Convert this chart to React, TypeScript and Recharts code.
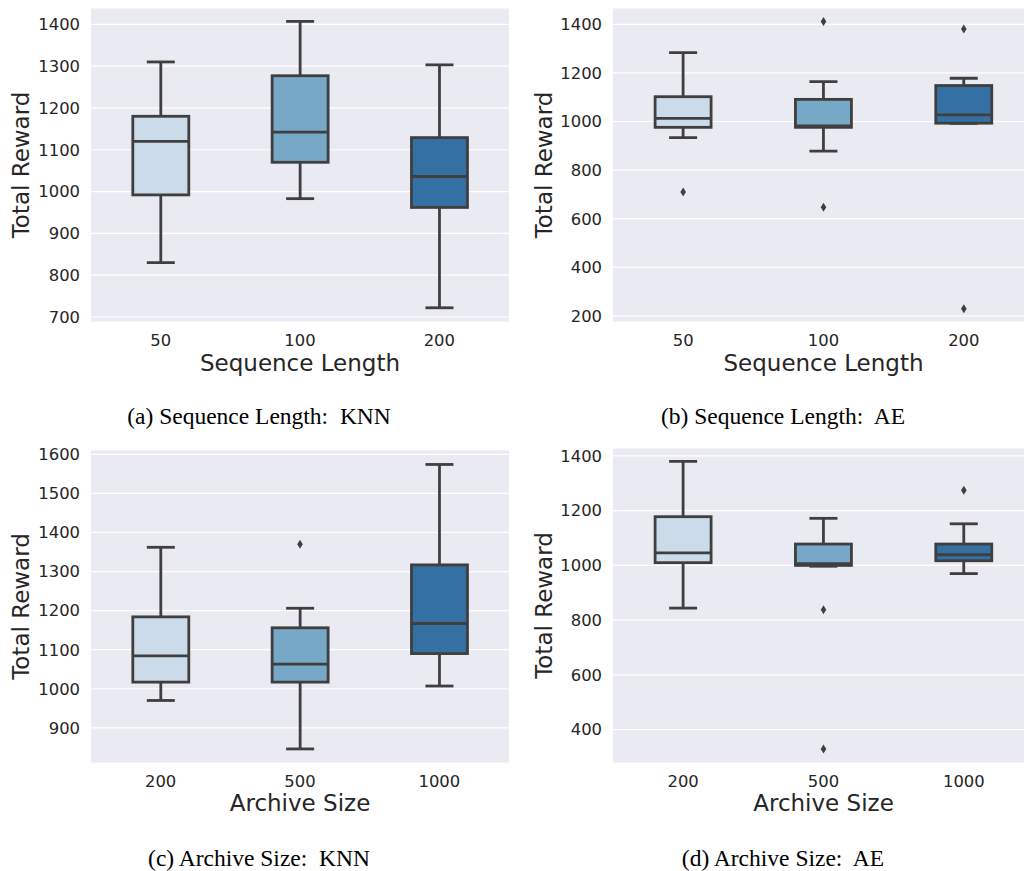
import { ComposedChart, Bar, Scatter, XAxis, YAxis, CartesianGrid, Label } from "recharts";

const seqLengths = ["50", "100", "200"];
const archiveSizes = ["200", "500", "1000"];

// per category: [min, q1, median, q3, max]
const seqKnnStats = [
  [830, 992, 1120, 1180, 1310],
  [983, 1070, 1142, 1277, 1407],
  [722, 962, 1036, 1129, 1303],
];
const seqAeStats = [
  [934, 976, 1013, 1102, 1283],
  [878, 976, 982, 1091, 1164],
  [992, 993, 1027, 1148, 1178],
];
const seqAeOutliers = [[710], [1411, 647], [1381, 230]];

const archKnnStats = [
  [970, 1017, 1084, 1184, 1362],
  [846, 1017, 1063, 1156, 1206],
  [1007, 1090, 1167, 1317, 1574],
];
const archKnnOutliers = [[], [1370], []];

const archAeStats = [
  [844, 1010, 1046, 1178, 1380],
  [997, 1000, 1006, 1078, 1172],
  [970, 1017, 1039, 1078, 1152],
];
const archAeOutliers = [[], [838, 329], [1275]];

const boxColors = ["#cbdbea", "#77a8c8", "#3470a3"];
const edge = "#3f3f3f";
const textColor = "#262626";
const sans = "DejaVu Sans, sans-serif";

const BoxShape = (props: any) => {
  const { x, y, width, height, payload, index } = props;
  const [min, q1, med, q3, max] = payload.stats;
  const top = Math.min(y, y + height);
  const h = Math.abs(height);
  // range bar spans max..min; place quartiles on the same scale
  const py = (v: number) => top + ((max - v) / (max - min)) * h;
  const cx = x + width / 2;
  const cap = width / 4;
  return (
    <g stroke={edge} strokeWidth={2.8}>
      <line x1={cx} x2={cx} y1={py(max)} y2={py(q3)} />
      <line x1={cx} x2={cx} y1={py(q1)} y2={py(min)} />
      <line x1={cx - cap} x2={cx + cap} y1={py(max)} y2={py(max)} />
      <line x1={cx - cap} x2={cx + cap} y1={py(min)} y2={py(min)} />
      <rect x={x} y={py(q3)} width={width} height={py(q1) - py(q3)} fill={boxColors[index]} />
      <line x1={x} x2={x + width} y1={py(med)} y2={py(med)} />
    </g>
  );
};

const Diamond = (props: any) => {
  const { cx, cy } = props;
  return (
    <polygon
      points={`${cx},${cy - 4.5} ${cx + 2.8},${cy} ${cx},${cy + 4.5} ${cx - 2.8},${cy}`}
      fill={edge}
    />
  );
};

interface PanelProps {
  left: number;
  top: number;
  width: number;
  height: number;
  marginTop: number;
  marginRight: number;
  yAxisWidth: number;
  xAxisHeight: number;
  yLabelOffset: number;
  categories: string[];
  stats: number[][];
  outliers?: number[][];
  domain: [number, number];
  ticks: number[];
  xLabel: string;
}

function BoxPanel(p: PanelProps) {
  const rows = p.categories.map((name, i) => ({
    name,
    range: [p.stats[i][0], p.stats[i][4]],
    stats: p.stats[i],
  }));
  const points = (p.outliers || []).flatMap((vals, i) =>
    vals.map((value) => ({ name: p.categories[i], value }))
  );
  return (
    <div style={{ position: "absolute", left: p.left, top: p.top }}>
      <ComposedChart
        width={p.width}
        height={p.height}
        data={rows}
        barCategoryGap="30%"
        margin={{ top: p.marginTop, right: p.marginRight, left: 0, bottom: 0 }}
        style={{ fontFamily: sans }}
      >
        <CartesianGrid fill="#eaeaf2" stroke="#ffffff" strokeWidth={1.2} vertical={false} />
        <XAxis
          dataKey="name"
          allowDuplicatedCategory={false}
          height={p.xAxisHeight}
          axisLine={false}
          tickLine={false}
          tickSize={0}
          tickMargin={12}
          tick={{ fill: textColor, fontSize: 16.4, fontFamily: sans }}
        >
          <Label
            value={p.xLabel}
            position="insideBottom"
            offset={9}
            style={{ fill: textColor, fontSize: 23, fontFamily: sans }}
          />
        </XAxis>
        <YAxis
          type="number"
          width={p.yAxisWidth}
          domain={p.domain}
          ticks={p.ticks}
          allowDataOverflow
          axisLine={false}
          tickLine={false}
          tickSize={0}
          tickMargin={11}
          tick={{ fill: textColor, fontSize: 16.4, fontFamily: sans }}
        >
          <Label
            value="Total Reward"
            angle={-90}
            position="insideLeft"
            offset={p.yLabelOffset}
            style={{ fill: textColor, fontSize: 23, fontFamily: sans, textAnchor: "middle" }}
          />
        </YAxis>
        <Bar dataKey="range" shape={<BoxShape />} isAnimationActive={false} />
        {points.length > 0 && (
          <Scatter data={points} dataKey="value" shape={<Diamond />} isAnimationActive={false} />
        )}
      </ComposedChart>
    </div>
  );
}

const captionStyle = {
  position: "absolute" as const,
  width: 400,
  textAlign: "center" as const,
  fontFamily: "Liberation Serif, Times New Roman, serif",
  fontSize: 23.5,
  lineHeight: "22px",
  color: "#000",
  whiteSpace: "pre" as const,
};

export default function App() {
  return (
    <div
      style={{
        position: "absolute",
        left: 0,
        top: 0,
        width: 1024,
        height: 871,
        overflow: "hidden",
        background: "#fff",
      }}
    >
      <BoxPanel
        left={0}
        top={0}
        width={520}
        height={380}
        marginTop={8}
        marginRight={11}
        yAxisWidth={91}
        xAxisHeight={58}
        yLabelOffset={21}
        categories={seqLengths}
        stats={seqKnnStats}
        domain={[688, 1439]}
        ticks={[700, 800, 900, 1000, 1100, 1200, 1300, 1400]}
        xLabel="Sequence Length"
      />
      {/* right-hand panels run past the page edge and are clipped */}
      <BoxPanel
        left={520}
        top={0}
        width={514}
        height={380}
        marginTop={8}
        marginRight={0}
        yAxisWidth={93}
        xAxisHeight={58}
        yLabelOffset={24}
        categories={seqLengths}
        stats={seqAeStats}
        outliers={seqAeOutliers}
        domain={[175, 1467]}
        ticks={[200, 400, 600, 800, 1000, 1200, 1400]}
        xLabel="Sequence Length"
      />
      <BoxPanel
        left={0}
        top={435}
        width={520}
        height={385}
        marginTop={15}
        marginRight={11}
        yAxisWidth={91}
        xAxisHeight={57}
        yLabelOffset={21}
        categories={archiveSizes}
        stats={archKnnStats}
        outliers={archKnnOutliers}
        domain={[810, 1611]}
        ticks={[900, 1000, 1100, 1200, 1300, 1400, 1500, 1600]}
        xLabel="Archive Size"
      />
      <BoxPanel
        left={520}
        top={435}
        width={514}
        height={385}
        marginTop={13}
        marginRight={0}
        yAxisWidth={93}
        xAxisHeight={57}
        yLabelOffset={24}
        categories={archiveSizes}
        stats={archAeStats}
        outliers={archAeOutliers}
        domain={[278, 1429]}
        ticks={[400, 600, 800, 1000, 1200, 1400]}
        xLabel="Archive Size"
      />
      <div style={{ ...captionStyle, left: 59, top: 405 }}>(a) Sequence Length:  KNN</div>
      <div style={{ ...captionStyle, left: 583, top: 405 }}>(b) Sequence Length:  AE</div>
      <div style={{ ...captionStyle, left: 59, top: 847 }}>(c) Archive Size:  KNN</div>
      <div style={{ ...captionStyle, left: 583, top: 847 }}>(d) Archive Size:  AE</div>
    </div>
  );
}
